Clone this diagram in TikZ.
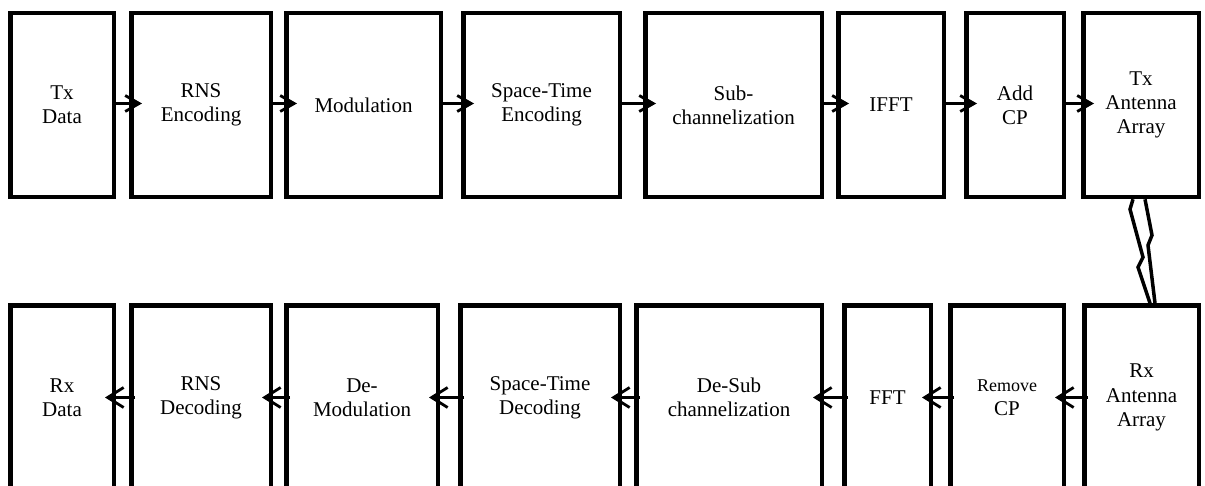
\documentclass[tikz,border=0pt]{standalone}
\usepackage{fontspec}
\setmainfont{Liberation Serif}
\usepackage{tikz}
\usetikzlibrary{arrows.meta}
\tikzset{
    block/.style={
        draw,
        rectangle,
        line width=4.5pt,
        minimum height=184,
        inner sep=0pt,
        align=center,
        font=\fontsize{21}{24.3}\selectfont,
    },
    flow/.style={
        line width=2.8pt,
        -{Straight Barb[length=14pt,width=16pt,line width=2.8pt]},
    },
    flowback/.style={
        line width=2.8pt,
        -{Straight Barb[length=16pt,width=20pt,line width=2.8pt]},
    },
    link/.style={
        line width=3.5pt,
        line join=miter,
    },
}

\begin{document}
\begin{tikzpicture}[x=1pt, y=-1pt]
    \useasboundingbox (0, 0) rectangle (1205, 486);

    % Transmitter
    \node[block, minimum width=103.5] (txdata) at (62, 105) {Tx\\Data};
    \node[block, minimum width=139.5] (rnsenc) at (201, 105) {RNS\\Encoding};
    \node[block, minimum width=154.5] (modu) at (363.5, 105) {Modulation};
    \node[block, minimum width=156.5] (stenc) at (541.5, 105) {Space-Time\\Encoding};
    \node[block, minimum width=176.5] (subch) at (733.5, 105) {Sub-\\channelization};
    \node[block, minimum width=105.5] (ifft) at (891, 105) {IFFT};
    \node[block, minimum width=97.5] (addcp) at (1015, 105) {Add\\CP};
    \node[block, minimum width=115.5] (txant) at (1141, 105) {Tx\\Antenna\\Array};

    % Receiver
    \node[block, minimum width=103.5] (rxdata) at (62, 397.5) {Rx\\Data};
    \node[block, minimum width=139.5] (rnsdec) at (201, 397.5) {RNS\\Decoding};
    \node[block, minimum width=151.5] (demod) at (362, 397.5) {De-\\Modulation};
    \node[block, minimum width=159.5] (stdec) at (540, 397.5) {Space-Time\\Decoding};
    \node[block, minimum width=185.5] (desub) at (729, 397.5) {De-Sub\\channelization};
    \node[block, minimum width=86.5] (fft) at (887.5, 397.5) {FFT};
    \node[block, minimum width=113.5] (remcp) at (1007, 397.5)
      {{\fontsize{18}{24.3}\selectfont Remove}\\CP};
    \node[block, minimum width=114.5] (rxant) at (1141.5, 397.5) {Rx\\Antenna\\Array};

    % Arrows, left to right on top
    \foreach \a/\b in {txdata/rnsenc, rnsenc/modu, modu/stenc, stenc/subch,
                       subch/ifft, ifft/addcp, addcp/txant}
      \draw[flow] ([yshift=1.5pt]\a.east) -- ([xshift=13pt,yshift=1.5pt]\b.west);

    % Arrows, right to left below
    \foreach \a/\b in {rxant/remcp, remcp/fft, fft/desub, desub/stdec,
                       stdec/demod, demod/rnsdec, rnsdec/rxdata}
      \draw[flowback] ([xshift=6pt]\a.west) -- ([xshift=-11pt]\b.east);

    % Wireless channel
    \draw[link] ([xshift=-8pt]txant.south) -- ++(-3, 10) -- ++(13, 48)
      -- ++(-5, 10) -- ([xshift=8.5pt]rxant.north);
    \draw[link] ([xshift=4pt]txant.south) -- ++(7, 36) -- ++(-4, 10)
      -- ([xshift=13.5pt]rxant.north);

  \end{tikzpicture}
\end{document}
